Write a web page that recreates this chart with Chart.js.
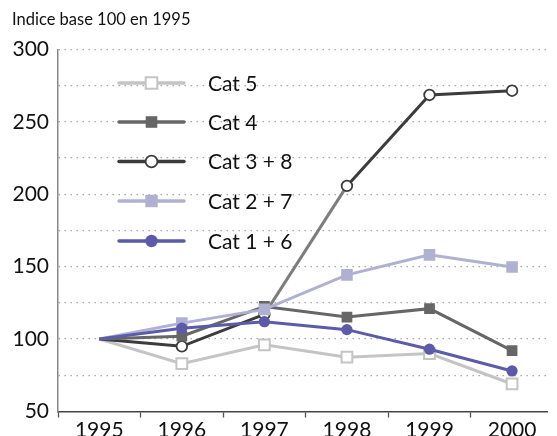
<!DOCTYPE html>
<html>
<head>
<meta charset="utf-8">
<script src="https://cdn.jsdelivr.net/npm/chart.js@4/dist/chart.umd.min.js"></script>
<style>
html,body{margin:0;padding:0;background:#fff;}
#wrap{width:557px;height:436px;position:relative;}
</style>
</head>
<body>
<div id="wrap"><canvas id="c"></canvas></div>
<script>
const years = ['1995','1996','1997','1998','1999','2000'];
const seriesNames = ['Cat 5','Cat 4','Cat 3 + 8','Cat 2 + 7','Cat 1 + 6'];
const cat5  = [100, 83, 96, 87.5, 90, 69];
const cat4  = [100, 102, 122.5, 115.2, 121, 92];
const cat38 = [100, 95, 117, 205.7, 268.5, 271.4];
const cat27 = [100, 111, 120.5, 144.3, 158.1, 149.7];
const cat16 = [100, 107.5, 112, 106.5, 93, 78];
const yTicks = [50, 100, 150, 200, 250, 300];
const titleText = 'Indice base 100 en 1995';

const FONT = 'Lato, "Open Sans", sans-serif';
const toPts = arr => arr.map((v, i) => ({x: i, y: v}));

const styles = [
  {color:'#c4c4c4', bg:'#ffffff', style:'rect',   r:7.6, bw:2,   order:4},
  {color:'#666666', bg:'#666666', style:'rect',   r:7.6, bw:0,   order:2},
  {color:'#3c3c3c', bg:'#ffffff', style:'circle', r:5.3, bw:1.8, order:3},
  {color:'#b0b0d2', bg:'#b0b0d2', style:'rect',   r:8.2, bw:0,   order:1},
  {color:'#5b5ba9', bg:'#5b5ba9', style:'circle', r:5.6, bw:0,   order:0}
];
const allData = [cat5, cat4, cat38, cat27, cat16];

const datasets = allData.map((d, k) => {
  const s = styles[k];
  const ds = {
    label: seriesNames[k],
    data: toPts(d),
    borderColor: s.color,
    backgroundColor: s.bg,
    borderWidth: 3,
    pointStyle: s.style,
    markerRadius: s.r,
    pointRadius: c => c.dataIndex === 0 ? 0 : s.r,
    pointHoverRadius: c => c.dataIndex === 0 ? 0 : s.r,
    pointBackgroundColor: s.bg,
    pointBorderColor: s.color,
    pointBorderWidth: s.bw,
    tension: 0,
    order: s.order
  };
  if (k === 2) {
    ds.segment = { borderColor: c => c.p0DataIndex === 2 ? '#7d7d7d' : undefined };
  }
  return ds;
});

const legendPlugin = {
  id: 'insideLegend',
  afterDatasetsDraw(chart) {
    const ctx = chart.ctx;
    const x0 = 119, x1 = 184, xm = 151.5, tx = 208;
    const rows = [83, 122, 161.5, 201, 241];
    chart.data.datasets.forEach((ds, k) => {
      const y = rows[k];
      ctx.save();
      ctx.strokeStyle = ds.borderColor;
      ctx.lineWidth = 3.5;
      ctx.lineCap = 'round';
      ctx.beginPath(); ctx.moveTo(x0, y); ctx.lineTo(x1, y); ctx.stroke();
      ctx.fillStyle = ds.pointBackgroundColor;
      ctx.strokeStyle = ds.pointBorderColor;
      ctx.lineWidth = ds.pointBorderWidth;
      Chart.helpers.drawPoint(ctx, {pointStyle: ds.pointStyle, radius: ds.markerRadius + 0.6, rotation: 0, borderWidth: ds.pointBorderWidth}, xm, y);
      ctx.fillStyle = '#111';
      ctx.font = '21px ' + FONT;
      ctx.textBaseline = 'middle';
      ctx.textAlign = 'left';
      ctx.fillText(ds.label, tx, y + 1);
      ctx.restore();
    });
  }
};

new Chart(document.getElementById('c'), {
  type: 'line',
  data: { datasets },
  plugins: [legendPlugin],
  options: {
    responsive: true,
    maintainAspectRatio: false,
    animation: false,
    layout: { padding: { left: 12, right: 0, top: 0, bottom: 0 } },
    plugins: {
      legend: { display: false },
      tooltip: { enabled: false },
      title: {
        display: true,
        text: titleText,
        align: 'start',
        color: '#111',
        font: { family: FONT, size: 16.5, weight: 'normal', lineHeight: 1.2 },
        padding: { top: 10, bottom: 19.5 }
      }
    },
    scales: {
      x: {
        type: 'linear',
        min: -0.5,
        max: 5.428,
        afterBuildTicks: scale => {
          const t = [];
          for (let v = -0.5; v <= 5.001; v += 0.5) t.push({ value: v });
          scale.ticks = t;
        },
        afterFit: scale => { scale.height = 24.5; },
        ticks: {
          autoSkip: false,
          maxRotation: 0,
          padding: 0,
          color: '#111',
          font: { family: FONT, size: 21 },
          callback: v => Number.isInteger(v) ? years[v] : ''
        },
        grid: {
          drawOnChartArea: false,
          drawTicks: true,
          tickLength: 6,
          tickWidth: 1.3,
          tickColor: c => (c.tick && Number.isInteger(c.tick.value)) ? 'rgba(0,0,0,0)' : '#555'
        },
        border: { display: true, color: '#444', width: 1.5 }
      },
      y: {
        min: 50,
        max: 300,
        afterBuildTicks: scale => {
          const t = [];
          for (let v = 50; v <= 300; v += 25) t.push({ value: v });
          scale.ticks = t;
        },
        afterFit: scale => { scale.width = 46; },
        ticks: {
          padding: 9,
          color: '#111',
          font: { family: FONT, size: 21 },
          callback: v => yTicks.includes(v) ? String(v) : ''
        },
        grid: {
          drawTicks: false,
          lineWidth: 1.3,
          color: c => (c.tick && c.tick.value === 50) ? 'rgba(0,0,0,0)' : '#a8a8a8'
        },
        border: { display: true, color: '#888', width: 1.5, dash: [1.5, 4.5] }
      }
    }
  }
});
</script>
</body>
</html>
